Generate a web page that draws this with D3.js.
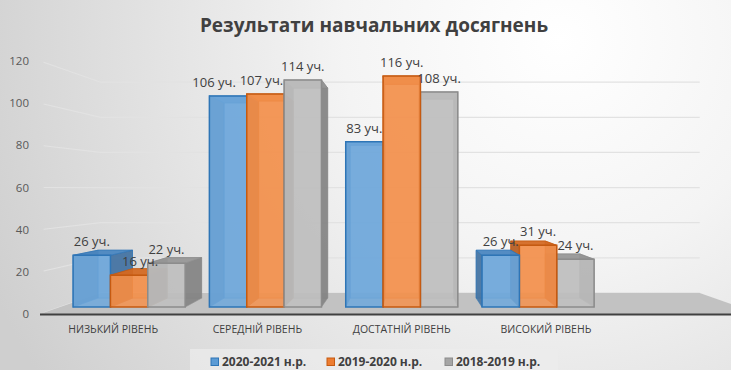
<!DOCTYPE html>
<html><head><meta charset="utf-8">
<script src="https://cdn.jsdelivr.net/npm/d3@7"></script>
<style>html,body{margin:0;padding:0;overflow:hidden;background:#fff}svg{display:block}</style>
</head><body>
<svg id="c" width="731" height="370"></svg>
<script>
// ---- data ----
const title = "Результати навчальних досягнень";
const categories = ["НИЗЬКИЙ РІВЕНЬ", "СЕРЕДНІЙ РІВЕНЬ", "ДОСТАТНІЙ РІВЕНЬ", "ВИСОКИЙ РІВЕНЬ"];
const seriesNames = ["2020-2021 н.р.", "2019-2020 н.р.", "2018-2019 н.р."];
const values2020_2021 = [26, 106, 83, 26];
const values2019_2020 = [16, 107, 116, 31];
const values2018_2019 = [22, 114, 108, 24];
const yTicks = [0, 20, 40, 60, 80, 100, 120];
const unitSuffix = " уч.";

// ---- layout / style ----
const W = 731, H = 370;
const seriesValues = [values2020_2021, values2019_2020, values2018_2019];
const colors = [
  {front:"#6FA8DC", stroke:"#2E75B6", side:"#3F6F9E", top:"#4A86C0", back:"#5B93CC"},
  {front:"#F4924E", stroke:"#C55A11", side:"#B35A1F", top:"#D46A24", back:"#E07A35"},
  {front:"#C0C0C0", stroke:"#8C8C8C", side:"#7F7F7F", top:"#969696", back:"#ABABAB"}
];
const legendColors = ["#5B9BD5", "#ED7D31", "#A5A5A5"];
const labelNudge = [[0,-14,0,0],[11,-4,0,0],[0,0,0,0]];

const vp = {x:404, y:188};
const sFront = 0.945, sBack = 0.874, sWall = 0.833;
const X0 = 40, X1 = 759;
const P = (X, Y, s) => [vp.x + (X - vp.x) * s, vp.y + (Y - vp.y) * s];

const svg = d3.select("#c");
const defs = svg.append("defs");
const rg = defs.append("radialGradient").attr("id","bg")
  .attr("gradientUnits","userSpaceOnUse").attr("cx",560).attr("cy",40).attr("r",620);
rg.append("stop").attr("offset","0").attr("stop-color","#ffffff");
rg.append("stop").attr("offset","0.35").attr("stop-color","#f4f4f4");
rg.append("stop").attr("offset","1").attr("stop-color","#cfcfcf");
svg.append("rect").attr("width",W).attr("height",H).attr("fill","url(#bg)");

const x = d3.scaleBand().domain(categories).range([41, 618]).paddingInner(0.178).paddingOuter(0.089);
const xs = d3.scaleBand().domain(seriesNames).range([0, x.bandwidth()]);
const y = d3.scaleLinear().domain([0, 120]).range([314, 61]);

// walls gridlines
const grid = svg.append("g");
yTicks.forEach(t => {
  const a = P(X0, y(t), 0.99), b = P(X0, y(t), sWall), c = P(X1, y(t), sWall);
  grid.append("path").attr("d", d3.line()([a, b, c]))
    .attr("fill","none").attr("stroke","#e2e2e2").attr("stroke-width",1.2);
});

// floor
const floorPts = [P(X0,314,1), P(X1,314,1), P(X1,314,sWall), P(X0,314,sWall)];
svg.append("path").attr("d", d3.line()(floorPts) + "Z").attr("fill","#c2c2c2");

// axis line
svg.append("line").attr("x1",40).attr("x2",W).attr("y1",314.5).attr("y2",314.5)
  .attr("stroke","#404040").attr("stroke-width",2);

// y tick labels
svg.append("g").selectAll("text").data(yTicks).join("text")
  .attr("x",29).attr("y",d => y(d)+4).attr("text-anchor","end")
  .attr("font-family","Open Sans, sans-serif").attr("font-size",11.5).attr("fill","#595959")
  .text(d => d);

// category labels
svg.append("g").selectAll("text").data(categories).join("text")
  .attr("x",d => x(d) + x.bandwidth()/2).attr("y",333).attr("text-anchor","middle")
  .attr("font-family","Open Sans, sans-serif").attr("font-size",10.5).attr("fill","#404040")
  .text(d => d);

// bars
const bars = [];
seriesValues.forEach((vals, si) => {
  vals.forEach((v, ci) => {
    const xa = x(categories[ci]) + xs(seriesNames[si]);
    bars.push({si, ci, v, xa, xb: xa + xs.bandwidth()});
  });
});
bars.sort((a,b) => Math.abs((b.xa+b.xb)/2 - vp.x) - Math.abs((a.xa+a.xb)/2 - vp.x));
const line = d3.line();
const gb = svg.append("g");
bars.forEach(b => {
  const c = colors[b.si];
  const Yt = y(b.v), Yb = y(0);
  const poly = (pts, fill, op, stroke) => gb.append("path").attr("d", line(pts)+"Z")
    .attr("fill",fill).attr("fill-opacity",op).attr("stroke",stroke).attr("stroke-width",1)
    .attr("stroke-opacity",0.6).attr("stroke-linejoin","round");
  // back
  poly([P(b.xa,Yb,sBack),P(b.xb,Yb,sBack),P(b.xb,Yt,sBack),P(b.xa,Yt,sBack)], c.back, 0.5, c.stroke);
  // sides
  poly([P(b.xa,Yb,sFront),P(b.xa,Yt,sFront),P(b.xa,Yt,sBack),P(b.xa,Yb,sBack)], c.side, 0.85, c.stroke);
  poly([P(b.xb,Yb,sFront),P(b.xb,Yt,sFront),P(b.xb,Yt,sBack),P(b.xb,Yb,sBack)], c.side, 0.85, c.stroke);
  // top
  poly([P(b.xa,Yt,sFront),P(b.xb,Yt,sFront),P(b.xb,Yt,sBack),P(b.xa,Yt,sBack)], c.top, 0.9, c.stroke);
  // front
  gb.append("path").attr("d", line([P(b.xa,Yb,sFront),P(b.xb,Yb,sFront),P(b.xb,Yt,sFront),P(b.xa,Yt,sFront)])+"Z")
    .attr("fill",c.front).attr("fill-opacity",0.85).attr("stroke",c.stroke).attr("stroke-width",1.5);
});

// data labels
const gl = svg.append("g");
seriesValues.forEach((vals, si) => {
  vals.forEach((v, ci) => {
    const xa = x(categories[ci]) + xs(seriesNames[si]);
    const cx = P(xa + xs.bandwidth()/2, y(v), sFront);
    gl.append("text").attr("x", cx[0] + labelNudge[si][ci]).attr("y", cx[1] - 9)
      .attr("text-anchor","middle").attr("font-family","Open Sans, sans-serif")
      .attr("font-size",13).attr("fill","#404040").text(v + unitSuffix);
  });
});

// title
svg.append("text").attr("x",374).attr("y",32).attr("text-anchor","middle")
  .attr("font-family","Open Sans, sans-serif").attr("font-weight","bold").attr("font-size",19)
  .attr("fill","#404040").text(title);

// legend
svg.append("rect").attr("x",190).attr("y",349).attr("width",368).attr("height",24)
  .attr("fill","#ececec").attr("fill-opacity",0.7);
const legX = [211, 327, 445];
const lg = svg.append("g").selectAll("g").data(seriesNames).join("g")
  .attr("transform",(d,i) => `translate(${legX[i]},358)`);
lg.append("rect").attr("width",7.5).attr("height",7.5)
  .attr("fill",(d,i)=>legendColors[i]).attr("stroke",(d,i)=>colors[i].stroke).attr("stroke-width",1);
lg.append("text").attr("x",11).attr("y",7.8).attr("font-family","Open Sans, sans-serif")
  .attr("font-weight","bold").attr("font-size",12).attr("fill","#404040").text(d=>d);
</script>
</body></html>
